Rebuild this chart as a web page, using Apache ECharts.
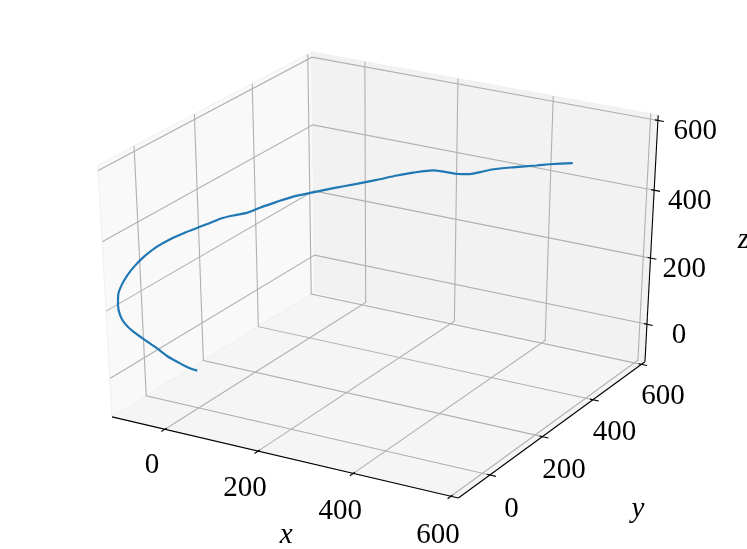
<!DOCTYPE html>
<html><head><meta charset="utf-8"><style>html,body{margin:0;background:#fff}#c{width:747px;height:549px}</style>
<script src="https://cdn.jsdelivr.net/npm/echarts@6/dist/echarts.min.js"></script></head>
<body><div id="c"></div><script>
const curveX=[-87,-86,-85,-85,-88,-91,-97,-102,-104,-103,-102,-99,-96,-94,-88,-79,-66,-50,-22,-2,17,34,51,74,100,130,164,201,233,265,295,331,353,378,397,417,442,477,521,552,587];
const curveY=[133,102,67,33,1,-32,-60,-79,-90,-96,-95,-87,-71,-49,-24,2,28,54,82,103,118,131,149,170,185,201,220,240,257,274,281,290,293,297,300,307,311,319,325,330,336];
const curveZ=[-102,-76,-41,-5,37,78,116,149,179,212,241,266,288,304,322,338,351,362,380,393,400,405,416,429,444,456,469,482,494,507,520,532,532,531,534,542,555,566,580,590,599];
const xTicks=[0,200,400,600], yTicks=[0,200,400,600], zTicks=[0,200,400,600];
const xLim=[-116,615], yLim=[-116,615], zLim=[-116,615];

// matplotlib-style camera: elev 30, azim -60, dist 10, unit cube
const U=[.866025,.5,0], V=[-.25,.433013,.866025], N=[.433013,-.75,.5], DIST=10;
const dot=(a,b)=>a[0]*b[0]+a[1]*b[1]+a[2]*b[2];
const norm=(v,l)=>(v-l[0])/(l[1]-l[0])-.5;
function proj(x,y,z){const p=[norm(x,xLim),norm(y,yLim),norm(z,zLim)],w=DIST-dot(N,p);return [dot(U,p)/w,dot(V,p)/w];}
// axis scale: view space to the 747x549 page
const SX=3998,TX=382.6,SY=2876,TY=267.4;

const [x0,x1]=xLim,[y0,y1]=yLim,[z0,z1]=zLim;
const GRID='#b0b0b0',BLACK='#000';
function line(pts,color,width,z){return {type:'line',data:pts.map(p=>proj(...p)),showSymbol:false,silent:true,animation:false,clip:false,z:z,lineStyle:{color:color,width:width,cap:'butt',join:'miter'}};}
function poly(pts,fill,z){const c=pts.map(p=>proj(...p));return {type:'custom',data:[[0,0]],silent:true,animation:false,clip:false,z:z,
  renderItem:(ps,api)=>({type:'polygon',shape:{points:c.map(q=>api.coord(q))},style:{fill:fill,stroke:'#f0f0f0',lineWidth:1}})};}
function text(pos,str,dx,dy,italic){const q=proj(...pos);return {type:'custom',data:[[0,0]],silent:true,animation:false,clip:false,z:8,
  renderItem:(ps,api)=>{const c=api.coord(q);return {type:'text',x:c[0]+dx,y:c[1]+dy,style:{text:str,fill:'#000',align:'center',verticalAlign:'middle',font:(italic?'italic ':'')+'29px "Liberation Serif"'}};}};}

const series=[];
// panes
series.push(poly([[x0,y0,z0],[x0,y1,z0],[x0,y1,z1],[x0,y0,z1]],'#f9f9f9',1));
series.push(poly([[x0,y1,z0],[x1,y1,z0],[x1,y1,z1],[x0,y1,z1]],'#f2f2f2',1));
series.push(poly([[x0,y0,z0],[x1,y0,z0],[x1,y1,z0],[x0,y1,z0]],'#f5f5f5',1));
// grid lines
xTicks.forEach(t=>series.push(line([[t,y0,z0],[t,y1,z0],[t,y1,z1]],GRID,1.1,2)));
yTicks.forEach(t=>series.push(line([[x1,t,z0],[x0,t,z0],[x0,t,z1]],GRID,1.1,2)));
zTicks.forEach(t=>series.push(line([[x0,y0,t],[x0,y1,t],[x1,y1,t]],GRID,1.1,2)));
// axis edges
series.push(line([[x0,y0,z0],[x1,y0,z0]],BLACK,1.1,4));
series.push(line([[x1,y0,z0],[x1,y1,z0]],BLACK,1.1,4));
series.push(line([[x1,y1,z0],[x1,y1,z1]],BLACK,1.1,4));
// ticks: outward 1/60 of the box, inward 1/120
const xs=x1-x0,ys=y1-y0;
xTicks.forEach(t=>series.push(line([[t,y0-ys/60,z0],[t,y0+ys/120,z0]],BLACK,1.1,4)));
yTicks.forEach(t=>series.push(line([[x1+xs/60,t,z0],[x1-xs/120,t,z0]],BLACK,1.1,4)));
zTicks.forEach(t=>series.push(line([[x1+xs/60,y1,t],[x1-xs/120,y1,t]],BLACK,1.1,4)));
// curve
series.push({type:'line',data:curveX.map((x,i)=>proj(x,curveY[i],curveZ[i])),showSymbol:false,silent:true,animation:false,clip:false,z:6,smooth:.25,lineStyle:{color:'#1f77b4',width:2.2}});
// tick labels
xTicks.forEach((t,i)=>series.push(text([t,y0,z0],String(t),-13,36+i*1.2)));
yTicks.forEach((t,i)=>series.push(text([x1,t,z0],String(t),21.5,34-i*.6)));
zTicks.forEach((t,i)=>series.push(text([x1,y1,t],String(t),32+i*1.8,11)));
// axis titles
series.push(text([(x0+x1)/2+96,y0,z0],'x',-41,68,true));
series.push(text([x1,(y0+y1)/2+62,z0],'y',67,93,true));
series.push(text([x1,y1,(z0+z1)/2],'z',92,-1,true));

const chart=echarts.init(document.getElementById('c'),null,{renderer:'canvas'});
chart.setOption({animation:false,backgroundColor:'#fff',
  grid:{left:0,right:0,top:0,bottom:0},
  xAxis:{type:'value',show:false,min:(0-TX)/SX,max:(747-TX)/SX},
  yAxis:{type:'value',show:false,min:(TY-549)/SY,max:TY/SY},
  tooltip:{show:false},legend:{show:false},series:series});
</script></body></html>
